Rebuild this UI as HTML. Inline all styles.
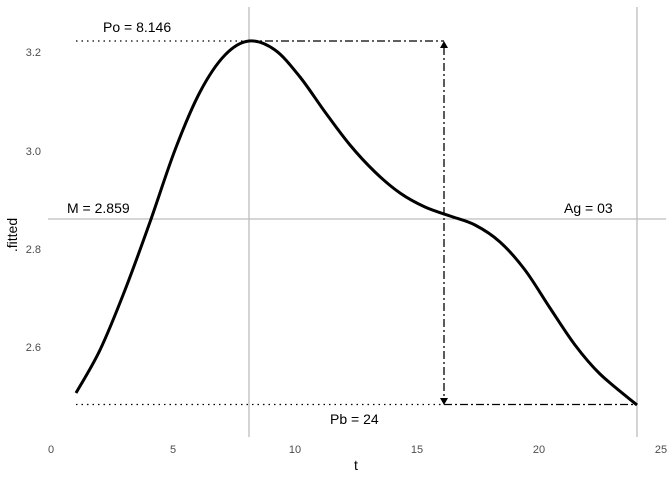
<!DOCTYPE html>
<html><head><style>body{margin:0;background:#fff}svg{display:block}text{font-family:"Liberation Sans",sans-serif}</style></head>
<body>
<svg width="672" height="480" viewBox="0 0 672 480">
<g stroke="#bdbdbd" stroke-width="1.3">
<line x1="249" y1="7" x2="249" y2="437"/>
<line x1="637" y1="7" x2="637" y2="437"/>
<line x1="48" y1="219" x2="666" y2="219"/>
</g>
<g stroke="#000" stroke-width="1.3" fill="none">
<line x1="76" y1="41" x2="249" y2="41" stroke-dasharray="1.5,4"/>
<line x1="76" y1="404.5" x2="444" y2="404.5" stroke-dasharray="1.5,4"/>
<line x1="249" y1="41" x2="444" y2="41" stroke-dasharray="8,3,2,3"/>
<line x1="444" y1="404.5" x2="637" y2="404.5" stroke-dasharray="8,3,2,3"/>
<line x1="444" y1="47" x2="444" y2="398" stroke-dasharray="8,3,2,3"/>
</g>
<polygon points="444,41 440,48 448,48" fill="#000"/>
<polygon points="444,405 440,398 448,398" fill="#000"/>
<path d="M76,393 C80,385.8 91.8,367.2 100,350 C108.2,332.8 116.7,311.3 125,290 C133.3,268.7 141.7,245.3 150,222 C158.3,198.7 166.7,171.7 175,150 C183.3,128.3 191.7,107.8 200,92 C208.3,76.2 216.8,63.5 225,55 C233.2,46.5 240.7,41.8 249,41 C257.3,40.2 266.5,44 275,50 C283.5,56 291.7,66.7 300,77 C308.3,87.3 316.7,100.7 325,112 C333.3,123.3 341.7,135 350,145 C358.3,155 366.7,164 375,172 C383.3,180 391.7,187.2 400,193 C408.3,198.8 416.7,203.2 425,207 C433.3,210.8 441.7,213 450,216 C458.3,219 466.7,220.7 475,225 C483.3,229.3 491.7,234.5 500,242 C508.3,249.5 516.7,259 525,270 C533.3,281 541.7,295.5 550,308 C558.3,320.5 566.7,334 575,345 C583.3,356 589.7,364 600,374 C610.3,384 630.8,399.8 637,405" stroke="#000" stroke-width="3" fill="none" stroke-linejoin="round"/>
<g font-size="14" fill="#000">
<text x="103" y="32">Po = 8.146</text>
<text x="67" y="213">M = 2.859</text>
<text x="564" y="213">Ag = 03</text>
<text x="330" y="424">Pb = 24</text>
</g>
<g font-size="11" fill="#4d4d4d" text-anchor="end">
<text x="41" y="56">3.2</text>
<text x="41" y="155">3.0</text>
<text x="41" y="253">2.8</text>
<text x="41" y="351">2.6</text>
</g>
<g font-size="11" fill="#4d4d4d" text-anchor="middle">
<text x="51" y="453">0</text>
<text x="173" y="453">5</text>
<text x="295" y="453">10</text>
<text x="417" y="453">15</text>
<text x="539" y="453">20</text>
<text x="661" y="453">25</text>
</g>
<text x="356" y="470" font-size="14" text-anchor="middle">t</text>
<text transform="translate(17,235) rotate(-90)" font-size="14" text-anchor="middle">.fitted</text>
</svg>
</body></html>
